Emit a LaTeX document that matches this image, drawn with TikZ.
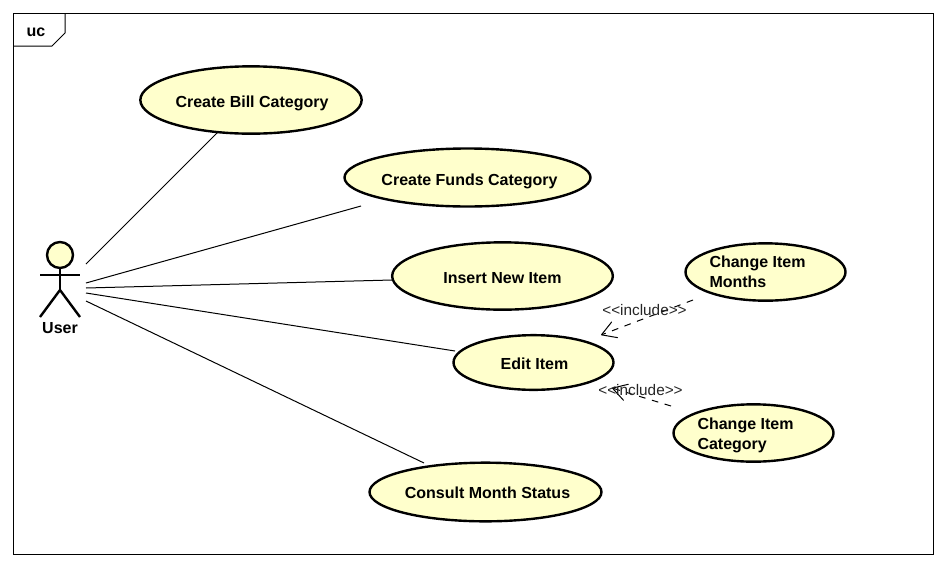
\documentclass[tikz,border=0pt]{standalone}
\usepackage{fontspec}
\setmainfont{Liberation Sans}
\usetikzlibrary{shapes.geometric,arrows.meta}
\definecolor{ucfill}{HTML}{FFFFCC}
% #1 = move text down, #2 = move text left; the box takes no room, so the ellipse size stays as set
\newcommand{\uctext}[3]{\raisebox{-#1}[0pt][0pt]{\makebox[0pt][c]{\hspace*{\dimexpr-2\dimexpr#2\relax\relax}\begin{tabular}{@{}l@{}}#3\end{tabular}}}}
\tikzset{
  usecase/.style={ellipse,draw=black,line width=1.8pt,fill=ucfill,inner sep=0pt,font=\fontsize{12}{15}\selectfont\bfseries},
  assoc/.style={draw=black,line width=0.75pt},
  incl/.style={draw=black,line width=0.75pt,dash pattern=on 5pt off 5pt,-{Straight Barb[length=10.5pt,width=12.5pt,line width=0.75pt,round]}},
  incllabel/.style={font=\fontsize{11.5}{14}\selectfont,inner sep=0pt,text=black!85},
  actorline/.style={draw=black,line width=1.8pt}
}
\begin{document}
\begin{tikzpicture}[x=0.75pt,y=-0.75pt]
\useasboundingbox (0,0) rectangle (946,568);
\fill[white] (0,0) rectangle (946,568);
% frame
\draw[black,line width=0.75pt] (13,13) rectangle (933,554);
\draw[black,line width=0.75pt] (13,46) -- (52,46) -- (65,33) -- (65,13);
\node[font=\fontsize{12}{15}\selectfont\bfseries,inner sep=0pt] (frametag) at (36,32) {uc};
% use cases
\node[usecase,minimum width=166pt,minimum height=50.5pt] (bill) at (251,100) {\uctext{5.5pt}{-0.75pt}{Create Bill Category}};
\node[usecase,minimum width=184.5pt,minimum height=43.5pt] (funds) at (467.5,177.5) {\uctext{6.25pt}{-1.5pt}{Create Funds Category}};
\node[usecase,minimum width=165.5pt,minimum height=50.5pt] (insert) at (502.5,276) {\uctext{5.5pt}{0pt}{Insert New Item}};
\node[usecase,minimum width=120pt,minimum height=41pt] (edit) at (533.5,362.5) {\uctext{5.5pt}{-0.75pt}{Edit Item}};
\node[usecase,minimum width=174pt,minimum height=44pt] (consult) at (485.5,492) {\uctext{5pt}{-1.5pt}{Consult Month Status}};
\node[usecase,minimum width=120pt,minimum height=43pt] (months) at (765.5,272) {\uctext{4pt}{6pt}{Change Item\\Months}};
\node[usecase,minimum width=120pt,minimum height=43pt] (category) at (753.5,433) {\uctext{4.75pt}{6pt}{Change Item\\Category}};
% actor
\node[circle,draw=black,line width=1.8pt,fill=ucfill,minimum size=19.5pt,inner sep=0pt] (head) at (60,255) {};
\coordinate (hip) at (60,290);
\coordinate (armL) at (40,275);
\coordinate (armR) at (80,275);
\coordinate (legL) at (40,317);
\coordinate (legR) at (80,317);
\draw[actorline] (head.south) -- (hip);
\draw[actorline] (armL) -- (armR);
\draw[actorline] (legL) -- (hip) -- (legR);
\node[font=\fontsize{12}{15}\selectfont\bfseries,inner sep=0pt] (user) at (60,328) {User};
% association ends
\coordinate (a1) at (86,264); \coordinate (b1) at (218,132);
\coordinate (a2) at (86,283); \coordinate (b2) at (361,206);
\coordinate (a3) at (86,288); \coordinate (b3) at (392,280);
\coordinate (a4) at (86,293); \coordinate (b4) at (455,351);
\coordinate (a5) at (86,301); \coordinate (b5) at (424,463);
\draw[assoc] (a1) -- (b1);
\draw[assoc] (a2) -- (b2);
\draw[assoc] (a3) -- (b3);
\draw[assoc] (a4) -- (b4);
\draw[assoc] (a5) -- (b5);
% includes
\coordinate (m1) at (693,300); \coordinate (e1) at (601,335);
\coordinate (m2) at (671,406); \coordinate (e2) at (612,388);
\draw[incl] (m1) -- (e1);
\draw[incl] (m2) -- (e2);
\node[incllabel] (l1) at (644.5,310) {{<}{<}include{>}{>}};
\node[incllabel] (l2) at (640.5,390) {{<}{<}include{>}{>}};
\end{tikzpicture}
\end{document}
